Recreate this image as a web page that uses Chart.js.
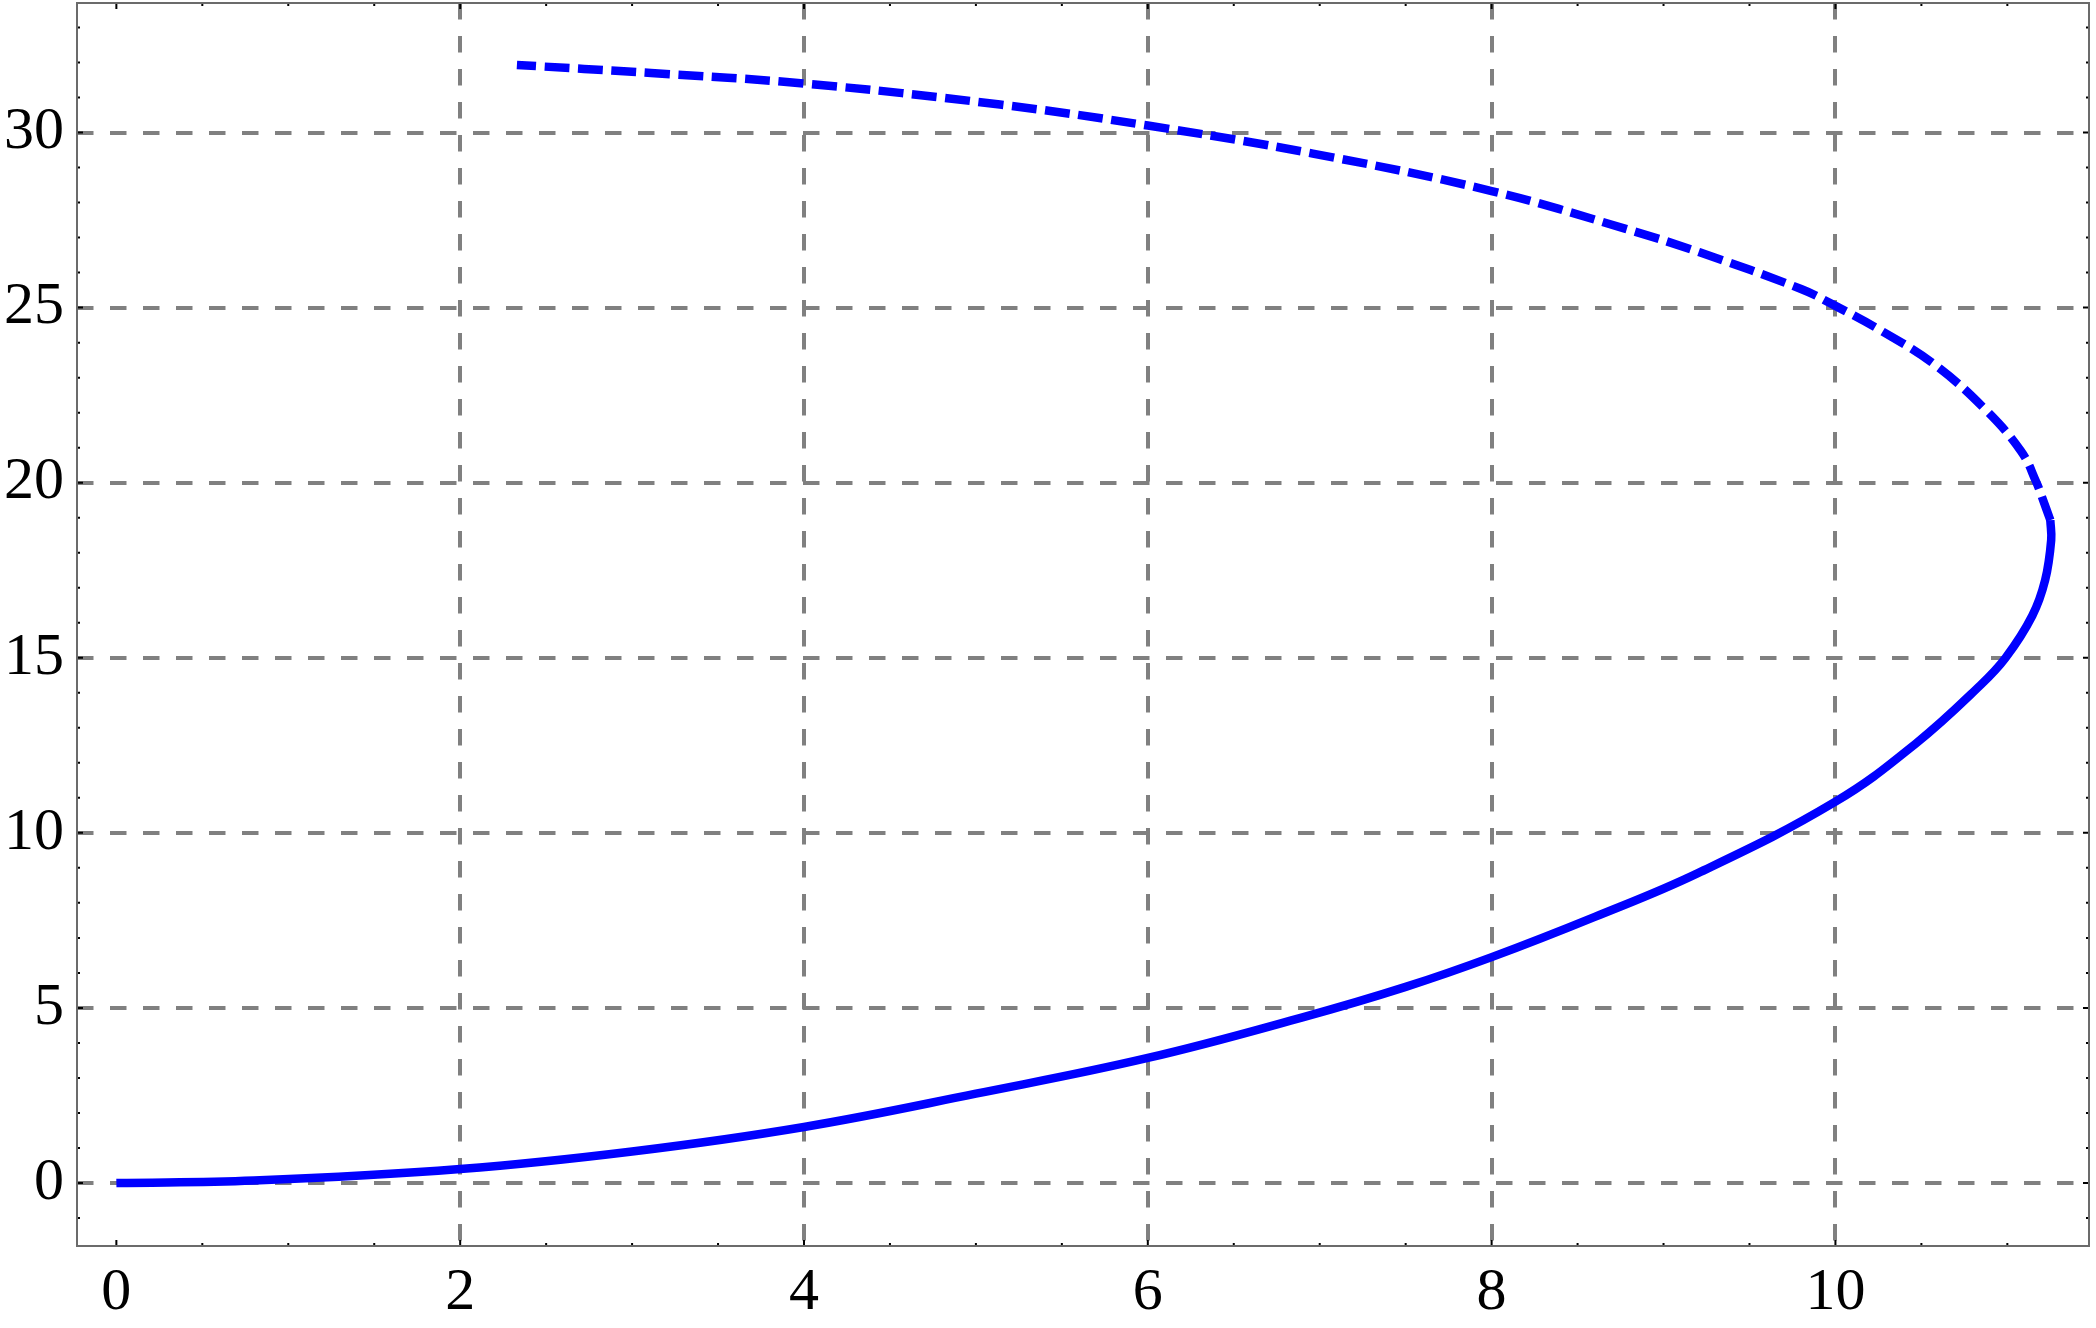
<!DOCTYPE html>
<html>
<head>
<meta charset="utf-8">
<script src="https://cdn.jsdelivr.net/npm/chart.js@4.4.1/dist/chart.umd.min.js"></script>
<style>
html, body { margin: 0; padding: 0; background: #fff; }
#wrap { width: 2096px; height: 1328px; }
</style>
</head>
<body>
<div id="wrap"><canvas id="my-chart" width="2096" height="1328"></canvas></div>
<script>
let xTicks = [0, 2, 4, 6, 8, 10];
let yTicks = [0, 5, 10, 15, 20, 25, 30];

// solid branch: origin -> turning point
let lowerX = [0, 0.8, 2, 3, 4, 5, 6, 6.9, 7.5, 8, 8.6, 9.2, 10.0, 10.47, 10.84, 10.99, 11.145, 11.22, 11.255, 11.25];
let lowerY = [0, 0.07, 0.4, 0.9, 1.6, 2.55, 3.57, 4.73, 5.6, 6.45, 7.6, 8.85, 10.89, 12.56, 14.2, 15.0, 16.2, 17.22, 18.36, 18.93];
// dashed branch: turning point -> back to the left
let upperX = [11.25, 11.2, 11.17, 11.08, 10.86, 10.57, 10.28, 10.0, 9.8, 9.21, 8.78, 8.0, 6.96, 6.0, 5.14, 4.0, 3.11, 2.33];
let upperY = [18.93, 19.61, 20.0, 20.9, 22.15, 23.4, 24.3, 25.05, 25.53, 26.58, 27.25, 28.33, 29.4, 30.2, 30.8, 31.4, 31.7, 31.93];

let toPoints = (xs, ys) => xs.map((v, i) => ({ x: v, y: ys[i] }));

const gridGray = '#808080';
const labelFont = { family: "'Liberation Serif', 'DejaVu Serif', serif", size: 60 };

// frame box + small inward tick marks on all four sides
const framePlugin = {
    id: 'frame',
    afterDraw(chart) {
        const { ctx, chartArea: a, scales: { x, y } } = chart;
        ctx.save();
        ctx.strokeStyle = '#000';
        ctx.lineWidth = 2;
        ctx.beginPath();
        for (let v = 0; v <= x.max; v += 0.5) {
            const px = x.getPixelForValue(v);
            const len = (v % 2 === 0) ? 6 : 3;
            ctx.moveTo(px, a.bottom); ctx.lineTo(px, a.bottom - len);
            ctx.moveTo(px, a.top); ctx.lineTo(px, a.top + len);
        }
        for (let v = Math.ceil(y.min); v <= y.max; v += 1) {
            const py = y.getPixelForValue(v);
            const len = (v % 5 === 0) ? 6 : 3;
            ctx.moveTo(a.left, py); ctx.lineTo(a.left + len, py);
            ctx.moveTo(a.right, py); ctx.lineTo(a.right - len, py);
        }
        ctx.stroke();
        ctx.strokeStyle = '#6b6b6b';
        ctx.lineWidth = 2;
        ctx.strokeRect(a.left, a.top, a.right - a.left, a.bottom - a.top);
        ctx.restore();
    }
};

new Chart("my-chart", {
    type: 'scatter',
    data: {
        datasets: [
            {
                data: toPoints(lowerX, lowerY),
                showLine: true,
                borderColor: '#0000ff',
                borderWidth: 8.5,
                pointRadius: 0,
                tension: 0.4,
                fill: false
            },
            {
                data: toPoints(upperX, upperY),
                showLine: true,
                borderColor: '#0000ff',
                borderWidth: 8.5,
                borderDash: [25, 8.5],
                pointRadius: 0,
                tension: 0.4,
                fill: false
            }
        ]
    },
    options: {
        responsive: false,
        animation: false,
        devicePixelRatio: 1,
        layout: { padding: { top: 3, right: 7, left: 0, bottom: 0 } },
        plugins: { legend: { display: false }, tooltip: { enabled: false } },
        scales: {
            x: {
                type: 'linear',
                min: -0.229,
                max: 11.475,
                afterBuildTicks: s => { s.ticks = xTicks.map(v => ({ value: v })); },
                afterFit: s => { s.height = 82; s.paddingLeft = 0; s.paddingRight = 0; },
                grid: {
                    color: c => (c.tick && c.tick.value === 0) ? 'rgba(0,0,0,0)' : gridGray,
                    lineWidth: 4,
                    drawTicks: false
                },
                border: { display: false, dash: [16.5, 16.5] },
                ticks: { color: '#000', font: labelFont, padding: 11, maxRotation: 0 }
            },
            y: {
                type: 'linear',
                min: -1.8,
                max: 33.7,
                afterBuildTicks: s => { s.ticks = yTicks.map(v => ({ value: v })); },
                afterFit: s => { s.width = 77; s.paddingTop = 0; s.paddingBottom = 0; },
                grid: { color: gridGray, lineWidth: 4, drawTicks: false },
                border: { display: false, dash: [16.5, 16.5] },
                ticks: { color: '#000', font: labelFont, padding: 13 }
            }
        }
    },
    plugins: [framePlugin]
});
</script>
</body>
</html>
